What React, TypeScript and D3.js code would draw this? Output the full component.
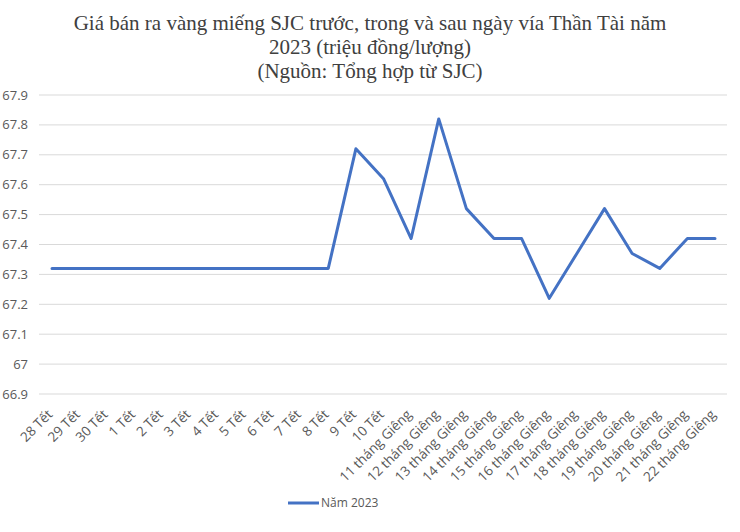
import React from "react";
import * as d3 from "d3";

const categories: string[] = [
  "28 Tết", "29 Tết", "30 Tết", "1 Tết", "2 Tết", "3 Tết", "4 Tết", "5 Tết", "6 Tết", "7 Tết", "8 Tết", "9 Tết", "10 Tết",
  "11 tháng Giêng", "12 tháng Giêng", "13 tháng Giêng", "14 tháng Giêng", "15 tháng Giêng", "16 tháng Giêng",
  "17 tháng Giêng", "18 tháng Giêng", "19 tháng Giêng", "20 tháng Giêng", "21 tháng Giêng", "22 tháng Giêng",
];
const values2023: number[] = [
  67.32, 67.32, 67.32, 67.32, 67.32, 67.32, 67.32, 67.32, 67.32, 67.32, 67.32,
  67.72, 67.62, 67.42, 67.82, 67.52, 67.42, 67.42, 67.22, 67.37, 67.52, 67.37, 67.32, 67.42, 67.42,
];
const yTicks: number[] = [66.9, 67, 67.1, 67.2, 67.3, 67.4, 67.5, 67.6, 67.7, 67.8, 67.9];
const titleLines: string[] = [
  "Giá bán ra vàng miếng SJC trước, trong và sau ngày vía Thần Tài năm",
  "2023 (triệu đồng/lượng)",
  "(Nguồn: Tổng hợp từ SJC)",
];
const seriesName = "Năm 2023";

const W = 740;
const H = 532;
const plotLeft = 39;
const plotRight = 727;
const firstX = 52;
const lastX = 715;
const yTop = 95;
const yBottom = 394;
const lineColor = "#4472C4";
const textColor = "#595959";
const labelFont = "'Open Sans', 'Noto Sans', sans-serif";

export default function App() {
  const x = d3
    .scalePoint<string>()
    .domain(categories)
    .range([firstX, lastX]);
  const y = d3.scaleLinear().domain([66.9, 67.9]).range([yBottom, yTop]);
  const line = d3
    .line<number>()
    .x((_, i) => x(categories[i]) as number)
    .y((d) => y(d));

  return (
    <svg
      width={W}
      height={H}
      style={{ position: "absolute", left: 0, top: 0, background: "#fff" }}
    >
      <rect x={0} y={0} width={W} height={H} fill="#fff" />
      {titleLines.map((t, i) => (
        <text
          key={i}
          x={370}
          y={30 + i * 24}
          textAnchor="middle"
          fontFamily="'Liberation Serif', 'DejaVu Serif', serif"
          fontSize={21}
          fill="#404040"
        >
          {t}
        </text>
      ))}
      {yTicks.map((t) => (
        <g key={t}>
          <line
            x1={plotLeft}
            x2={plotRight}
            y1={y(t)}
            y2={y(t)}
            stroke="#d9d9d9"
            strokeWidth={1}
          />
          <text
            x={28}
            y={y(t)}
            dy="0.35em"
            textAnchor="end"
            fontFamily={labelFont}
            fontSize={13}
            fill={textColor}
          >
            {d3.format("")(+t.toFixed(1))}
          </text>
        </g>
      ))}
      {categories.map((c) => (
        <text
          key={c}
          transform={`translate(${(x(c) as number) - 2},${412}) rotate(-45)`}
          textAnchor="end"
          dy="0.35em"
          fontFamily={labelFont}
          fontSize={13.5}
          fill={textColor}
        >
          {c}
        </text>
      ))}
      <path
        d={line(values2023) || ""}
        fill="none"
        stroke={lineColor}
        strokeWidth={3}
        strokeLinejoin="round"
        strokeLinecap="round"
      />
      <line x1={288} x2={319} y1={503} y2={503} stroke={lineColor} strokeWidth={3} />
      <text
        x={321}
        y={503}
        dy="0.35em"
        fontFamily={labelFont}
        fontSize={12}
        fill={textColor}
      >
        {seriesName}
      </text>
    </svg>
  );
}
